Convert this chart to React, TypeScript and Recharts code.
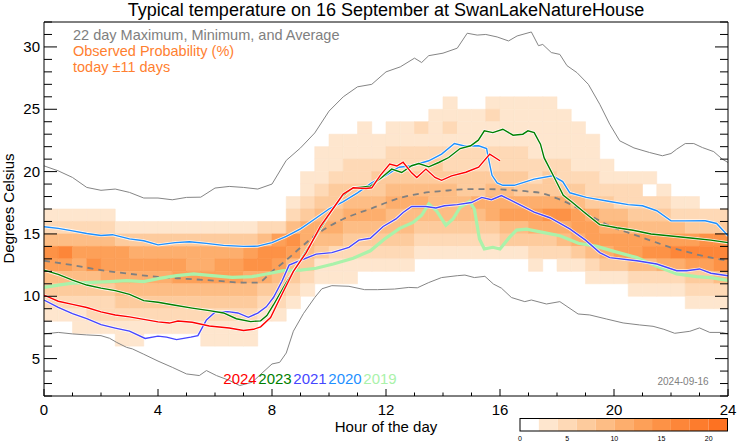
import React from "react";
import { ComposedChart, Line, XAxis, YAxis, ReferenceArea } from "recharts";

const FONT = "'Liberation Sans', Arial, Helvetica, sans-serif";

const hourTicks = [0, 1, 2, 3, 4, 5, 6, 7, 8, 9, 10, 11, 12, 13, 14, 15, 16, 17, 18, 19, 20, 21, 22, 23, 24];
const tempTicks = [2, 3, 4, 5, 6, 7, 8, 9, 10, 11, 12, 13, 14, 15, 16, 17, 18, 19, 20, 21, 22, 23, 24, 25, 26, 27, 28, 29, 30, 31, 32];
const colorbarTicks = [0, 5, 10, 15, 20];
const colorbarMax = 22;

// probability class (0 = none, 1..10 = 2%-steps) per half hour, one row per degree
// first row is 25-26 °C, last row is 6-7 °C
const heatTop = 25;
const heatRows = [
  "00000000 00000000 00000000 00001001 11110000 00000000",
  "00000000 00000000 00000000 00011112 11111000 00000000",
  "00000000 00000000 00000010 11212111 11111100 00000000",
  "00000000 00000000 00001111 11111111 11111110 00000000",
  "00000000 00000000 00011111 22222222 22111110 00000000",
  "00000000 00000000 00011222 22232222 22222111 00000000",
  "00000000 00000000 00112223 33333333 33232221 11100000",
  "00000000 00000000 00123333 44444334 43333322 22010000",
  "00000000 00000000 01233444 55544455 55555433 22221100",
  "11111000 00000000 02344555 44444445 66677654 43332222",
  "22222111 11111112 24555444 44333333 44555665 54444333",
  "44444333 33333334 67544333 33222222 33334566 66666677",
  "78666655 55555567 76432222 22111111 11222345 66778888",
  "66576666 66556677 64311111 11000000 00101123 34455667",
  "44445555 56666655 43211100 00000000 00000011 12222334",
  "33333444 44444443 32100000 00000000 00000000 01111222",
  "22222333 33333332 21000000 00000000 00000000 00000111",
  "11122222 22222221 10000000 00000000 00000000 00000000",
  "00111111 11111110 00000000 00000000 00000000 00000000",
  "00000110 00011110 00000000 00000000 00000000 00000000",
];

const levelColors = [
  "", "#fee6ce", "#fed9b6", "#fdcb9d", "#fdbd85", "#fdae6d",
  "#fda058", "#fd9246", "#fd8639", "#fd7c2d", "#fd7222",
];

// [hour, °C]
const maxTemp = [
  [0, 20.46], [0.5, 20.06], [1, 19.53], [1.5, 18.73], [2, 18.5], [2.5, 18.6], [3, 18.33], [3.5, 17.88],
  [4, 17.88], [4.5, 17.74], [5, 17.93], [5.5, 17.95], [6, 18.68], [6.5, 18.81], [7, 18.73], [7.5, 18.6],
  [8, 19.0], [8.5, 20.9], [9, 21.9], [9.5, 23.1], [10, 24.85], [10.5, 26.0], [11, 26.8], [11.5, 27.0],
  [12, 28.0], [12.5, 28.4], [13, 29.1], [13.25, 28.75], [13.5, 29.3], [14, 29.5], [14.5, 29.9], [14.85, 31.1],
  [15.2, 30.95], [15.5, 31.0], [15.9, 30.8], [16.3, 30.48], [16.6, 30.88], [17.1, 31.2], [17.35, 30.1],
  [17.5, 30.2], [17.8, 29.55], [18.1, 29.4], [18.35, 28.5], [18.7, 27.94], [19.1, 27.0], [19.5, 25.4],
  [19.85, 23.8], [20.2, 22.47], [20.7, 21.9], [21.25, 21.53], [21.7, 21.27], [22, 21.45], [22.2, 21.8],
  [22.5, 22.25], [22.8, 22.25], [23.1, 21.93], [23.5, 21.6], [23.8, 21.0], [24, 20.73],
];
const minTemp = [
  [0, 6.98], [0.5, 7.1], [1, 6.98], [1.5, 6.9], [2, 6.84], [2.3, 6.63], [2.55, 6.3], [2.9, 5.9], [3.1, 5.78],
  [3.5, 5.35], [4, 4.8], [4.5, 4.3], [5, 3.77], [5.45, 3.64], [5.7, 4.04], [6.05, 3.64], [6.5, 3.25],
  [6.87, 2.84], [7.3, 3.1], [7.68, 3.9], [8, 4.57], [8.27, 4.7], [8.5, 5.45], [8.75, 7.2], [9.1, 8.6],
  [9.5, 9.9], [9.75, 10.6], [10.1, 10.85], [10.7, 10.8], [11.25, 10.53], [11.7, 10.53], [12.3, 10.58],
  [12.8, 10.71], [13.1, 10.68], [13.5, 11.1], [13.95, 11.5], [14.5, 11.65], [14.77, 11.7], [15.1, 11.5],
  [15.47, 11.6], [15.77, 10.98], [16.05, 10.65], [16.4, 9.9], [16.87, 9.57], [17.1, 9.7], [17.63, 9.38],
  [18.1, 9.57], [18.74, 8.58], [19.15, 8.5], [19.73, 8.18], [20.32, 7.86], [20.9, 7.7], [21.37, 7.59],
  [21.75, 7.35], [22.13, 7.03], [22.66, 7.19], [23, 7.46], [23.36, 7.1], [23.77, 7.1], [24, 6.98],
];
const avgTemp = [
  [0, 12.85], [1, 12.5], [2, 12.1], [3, 11.8], [4, 11.55], [5, 11.4], [6, 11.25], [7, 11.1], [7.5, 11.1],
  [8, 12.0], [8.5, 12.9], [9, 13.9], [9.5, 14.85], [10, 15.6], [10.5, 16.2], [11, 16.65], [11.5, 17.05],
  [12, 17.5], [12.5, 17.9], [13, 18.15], [13.5, 18.35], [14, 18.45], [14.5, 18.55], [15, 18.6], [15.5, 18.6],
  [16, 18.57], [16.5, 18.5], [17, 18.4], [17.5, 18.25], [18, 17.85], [18.5, 17.35], [19, 16.7], [19.5, 16.05],
  [20, 15.5], [20.5, 15.1], [21, 14.7], [21.5, 14.3], [22, 13.9], [22.5, 13.6], [23, 13.3], [23.5, 13.05],
  [24, 12.85],
];

const temp2024 = [
  [0, 10.1], [0.5, 9.6], [1, 9.35], [1.5, 9.1], [2, 8.75], [2.5, 8.5], [3, 8.35], [3.5, 8.15], [4, 7.95],
  [4.4, 7.85], [4.7, 8.02], [5.2, 7.92], [5.8, 7.62], [6.5, 7.45], [7, 7.25], [7.35, 7.35], [7.6, 7.55],
  [7.95, 8.3], [8.25, 9.7], [8.75, 12.0], [9.2, 13.5], [9.7, 15.6], [10.1, 16.9], [10.5, 18.2], [10.85, 18.7],
  [11.3, 18.65], [11.5, 18.7], [11.8, 19.7], [12.13, 20.6], [12.38, 20.45], [12.6, 20.75], [12.9, 19.9],
  [13.08, 19.53], [13.4, 20.2], [13.72, 19.53], [13.95, 19.3], [14.3, 19.66], [14.8, 19.95], [15.25, 20.35],
  [15.64, 21.4], [16.0, 20.87],
];
const temp2023 = [
  [0, 12.1], [0.5, 11.75], [1, 11.3], [1.5, 10.9], [2, 10.65], [2.5, 10.45], [3, 10.15], [3.5, 9.65],
  [4, 9.52], [4.6, 9.28], [5.2, 9.05], [5.8, 8.85], [6.3, 8.66], [6.75, 8.2], [7.25, 7.97], [7.6, 8.03],
  [7.82, 8.45], [8.05, 9.3], [8.5, 11.1], [9, 12.9], [9.55, 14.9], [10.1, 16.9], [10.45, 18.0], [10.85, 18.7],
  [11.45, 18.82], [11.85, 19.53], [12.2, 20.2], [12.55, 19.93], [12.9, 20.47], [13.15, 20.65], [13.5, 20.38],
  [13.85, 20.73], [14.2, 21.13], [14.6, 21.85], [14.97, 22.07], [15.24, 22.52], [15.45, 23.27], [15.75, 23.13],
  [16.1, 23.4], [16.46, 22.92], [16.8, 23.0], [16.98, 23.27], [17.2, 23.13], [17.42, 22.2], [17.55, 21.1],
  [17.9, 19.55], [18.22, 18.1], [18.5, 17.6], [19.03, 16.6], [19.5, 15.75], [20.1, 15.5], [20.67, 15.3],
  [21.3, 15.0], [22.0, 14.83], [22.77, 14.65], [23.4, 14.5], [24, 14.3],
];
const temp2021 = [
  [0, 9.7], [0.5, 9.1], [1, 8.6], [1.5, 8.2], [2, 7.72], [2.5, 7.45], [3, 7.2], [3.55, 6.62], [4, 6.8],
  [4.3, 6.72], [4.65, 6.52], [5.15, 6.72], [5.4, 6.84], [5.7, 8.1], [6, 8.72], [6.45, 8.77], [6.8, 8.66],
  [7.17, 8.31], [7.5, 8.65], [7.8, 9.15], [8.05, 9.9], [8.35, 11.2], [8.6, 12.5], [8.97, 12.85], [9.55, 13.38],
  [10.1, 13.5], [10.7, 13.92], [11.05, 14.5], [11.45, 14.65], [11.9, 15.6], [12.35, 16.2], [12.6, 16.72],
  [12.9, 17.2], [13.4, 17.2], [13.75, 17.08], [14.05, 17.26], [14.5, 17.35], [15.0, 17.52], [15.36, 17.93],
  [15.7, 17.75], [16.05, 18.08], [16.6, 17.45], [17.2, 16.75], [17.75, 16.3], [18.45, 15.4], [19.0, 14.5],
  [19.5, 13.5], [19.85, 13.1], [20.8, 12.85], [21.5, 12.59], [22.2, 12.05], [22.55, 12.05], [23.0, 12.19],
  [23.4, 11.85], [24, 11.65],
];
const temp2020 = [
  [0, 15.58], [0.5, 15.45], [1, 15.25], [1.5, 15.04], [2, 14.88], [2.4, 14.94], [3, 14.6], [3.5, 14.45],
  [4, 14.12], [4.6, 14.3], [5.1, 14.37], [5.7, 14.24], [6.3, 14.08], [7, 14.0], [7.5, 14.02], [8, 14.3],
  [8.5, 14.8], [9, 15.4], [9.5, 16.2], [10, 17.0], [10.5, 17.6], [11, 18.3], [11.5, 19.1], [12, 19.7],
  [12.45, 20.35], [12.9, 20.47], [13.5, 20.87], [13.95, 21.4], [14.4, 22.25], [14.75, 22.05], [15.25, 22.07],
  [15.53, 21.85], [15.6, 21.0], [15.72, 19.7], [15.9, 19.1], [16.1, 18.9], [16.5, 18.9], [17.2, 19.4],
  [17.85, 19.66], [18.2, 19.2], [18.45, 18.3], [19.03, 17.93], [19.85, 17.6], [20.5, 17.35], [21.0, 17.26],
  [21.5, 16.86], [22.0, 16.06], [22.5, 16.05], [23.2, 16.06], [23.6, 15.84], [24, 14.86],
];
const temp2019 = [
  [0, 10.71], [0.5, 10.9], [1, 11.05], [1.5, 11.1], [2.3, 11.17], [2.9, 11.25], [3.5, 11.17], [4.05, 11.44],
  [4.65, 11.65], [5.25, 11.79], [5.9, 11.65], [6.6, 11.52], [7.3, 11.57], [7.8, 11.79], [8.4, 12.05], [9, 12.1],
  [9.55, 12.25], [10.15, 12.59], [10.85, 13.05], [11.45, 13.65], [11.95, 14.6], [12.48, 15.45], [12.95, 15.92],
  [13.25, 16.5], [13.5, 17.4], [13.77, 16.86], [14.1, 15.7], [14.35, 16.2], [14.6, 17.13], [14.93, 17.6],
  [15.1, 17.0], [15.28, 14.6], [15.45, 13.8], [15.75, 13.93], [16.0, 13.79], [16.33, 14.72], [16.58, 15.31],
  [16.93, 15.39], [17.5, 15.12], [18.1, 14.86], [18.75, 14.25], [19.4, 14.0], [20.0, 13.6], [20.8, 13.1],
  [21.5, 12.4], [22.2, 11.79], [22.9, 11.57], [23.4, 11.5], [24, 11.28],
];

const years = [
  { label: "2024", color: "#ff0000", data: temp2024 },
  { label: "2023", color: "#008000", data: temp2023 },
  { label: "2021", color: "#4646ff", data: temp2021 },
  { label: "2020", color: "#1e90ff", data: temp2020 },
  { label: "2019", color: "#aaf2aa", data: temp2019 },
];

const pts = (arr: number[][]) => arr.map(([h, t]) => ({ h, t }));

const cells: { x1: number; x2: number; y1: number; y2: number; fill: string }[] = [];
heatRows.forEach((row, r) => {
  const t = heatTop - r;
  const s = row.replace(/ /g, "");
  for (let c = 0; c < s.length; c++) {
    const lvl = parseInt(s[c], 16);
    if (lvl > 0) cells.push({ x1: c / 2, x2: c / 2 + 0.5, y1: t, y2: t + 1, fill: levelColors[lvl] });
  }
});

const BottomTick = (props: any) => {
  const { x, y, payload } = props;
  const v = payload.value;
  const major = v % 4 === 0;
  return (
    <g>
      <line x1={x} x2={x} y1={y} y2={y - (major ? 7 : 3.5)} stroke="#000" />
      {major && (
        <text x={x} y={y + 19} textAnchor="middle" fontSize={15} fontFamily={FONT} fill="#000">
          {v}
        </text>
      )}
    </g>
  );
};

const TopTick = (props: any) => {
  const { x, y, payload } = props;
  const major = payload.value % 4 === 0;
  return <line x1={x} x2={x} y1={y} y2={y + (major ? 7 : 3.5)} stroke="#000" />;
};

const LeftTick = (props: any) => {
  const { x, y, payload } = props;
  const v = payload.value;
  const major = v % 5 === 0;
  return (
    <g>
      <line x1={x} x2={x + (major ? 13 : 8)} y1={y} y2={y} stroke="#000" />
      {major && (
        <text x={x - 4} y={y + 5} textAnchor="end" fontSize={15} fontFamily={FONT} fill="#000">
          {v}
        </text>
      )}
    </g>
  );
};

const RightTick = (props: any) => {
  const { x, y, payload } = props;
  const major = payload.value % 5 === 0;
  return <line x1={x} x2={x - (major ? 13 : 8)} y1={y} y2={y} stroke="#000" />;
};

export default function App() {
  const cbX = 520;
  const cbY = 418.5;
  const cbW = 207.5;
  const cbH = 12.5;
  const cb = (v: number) => cbX + (v / colorbarMax) * cbW;

  return (
    <div style={{ position: "absolute", left: 0, top: 0, width: 742, height: 445, background: "#fff" }}>
      <ComposedChart width={742} height={445} margin={{ top: 12, right: 4, bottom: 19, left: 4 }}>
        <XAxis
          dataKey="h"
          type="number"
          domain={[0, 24]}
          ticks={hourTicks}
          interval={0}
          height={30}
          tickSize={0}
          tickMargin={0}
          tickLine={false}
          axisLine={{ stroke: "#000" }}
          tick={BottomTick}
          allowDataOverflow
        />
        <XAxis
          xAxisId="top"
          orientation="top"
          type="number"
          domain={[0, 24]}
          ticks={hourTicks}
          interval={0}
          height={10}
          tickSize={0}
          tickMargin={0}
          tickLine={false}
          axisLine={{ stroke: "#000" }}
          tick={TopTick}
          allowDataOverflow
        />
        <YAxis
          type="number"
          domain={[2, 32]}
          ticks={tempTicks}
          interval={0}
          width={40}
          tickSize={0}
          tickMargin={0}
          tickLine={false}
          axisLine={{ stroke: "#000" }}
          tick={LeftTick}
          allowDataOverflow
        />
        <YAxis
          yAxisId="right"
          orientation="right"
          type="number"
          domain={[2, 32]}
          ticks={tempTicks}
          interval={0}
          width={10}
          tickSize={0}
          tickMargin={0}
          tickLine={false}
          axisLine={{ stroke: "#000" }}
          tick={RightTick}
          allowDataOverflow
        />
        {cells.map((c, i) => (
          <ReferenceArea
            key={`cell-${i}`}
            x1={c.x1}
            x2={c.x2}
            y1={c.y1}
            y2={c.y2}
            fill={c.fill}
            fillOpacity={1}
            stroke={c.fill}
            strokeWidth={0.6}
          />
        ))}
        <Line data={pts(maxTemp)} dataKey="t" type="linear" stroke="#858585" strokeWidth={1} dot={false} isAnimationActive={false} />
        <Line data={pts(minTemp)} dataKey="t" type="linear" stroke="#858585" strokeWidth={1} dot={false} isAnimationActive={false} />
        <Line
          data={pts(avgTemp)}
          dataKey="t"
          type="monotone"
          stroke="#808080"
          strokeWidth={1.8}
          strokeDasharray="6 5"
          dot={false}
          isAnimationActive={false}
        />
        <Line data={pts(temp2019)} dataKey="t" type="linear" stroke="#aaf2aa" strokeWidth={3.2} dot={false} isAnimationActive={false} />
        {years
          .filter((y) => y.label !== "2019")
          .slice()
          .reverse()
          .flatMap((y) => [
            <Line
              key={`halo-${y.label}`}
              data={pts(y.data)}
              dataKey="t"
              type="linear"
              stroke="#ffffff"
              strokeOpacity={0.8}
              strokeWidth={3}
              dot={false}
              isAnimationActive={false}
            />,
            <Line
              key={`line-${y.label}`}
              data={pts(y.data)}
              dataKey="t"
              type="linear"
              stroke={y.color}
              strokeWidth={1.4}
              dot={false}
              isAnimationActive={false}
            />,
          ])}
      </ComposedChart>

      <svg
        width={742}
        height={445}
        style={{ position: "absolute", left: 0, top: 0, pointerEvents: "none" }}
        fontFamily={FONT}
      >
        <text x={386} y={15.5} textAnchor="middle" fontSize={18} fill="#000">
          Typical temperature on 16 September at SwanLakeNatureHouse
        </text>
        <text x={73} y={40} fontSize={14.5} fill="#808080">
          22 day Maximum, Minimum, and Average
        </text>
        <text x={73} y={55.5} fontSize={14.5} fill="#ff8030">
          Observed Probability (%)
        </text>
        <text x={73} y={71.5} fontSize={14.5} fill="#ff8030">
          today ±11 days
        </text>
        {years.map((y, i) => (
          <text key={y.label} x={223.3 + i * 35} y={384} fontSize={15} fill={y.color}>
            {y.label}
          </text>
        ))}
        <text x={657.5} y={385} fontSize={10} fill="#808080">
          2024-09-16
        </text>
        <text x={0} y={0} transform="translate(13.5,208.5) rotate(-90)" textAnchor="middle" fontSize={15} fill="#000">
          Degrees Celsius
        </text>
        <text x={386} y={431.5} textAnchor="middle" fontSize={15} fill="#000">
          Hour of the day
        </text>

        {levelColors.slice(1).map((col, i) => (
          <rect key={col} x={cb(2 * (i + 1))} y={cbY} width={cb(2 * (i + 2)) - cb(2 * (i + 1))} height={cbH} fill={col} />
        ))}
        <rect x={cbX} y={cbY} width={cbW} height={cbH} fill="none" stroke="#000" strokeWidth={1} />
        {colorbarTicks.map((v) => (
          <text key={v} x={cb(v)} y={440.5} textAnchor="middle" fontSize={7} fill="#000">
            {v}
          </text>
        ))}
      </svg>
    </div>
  );
}
